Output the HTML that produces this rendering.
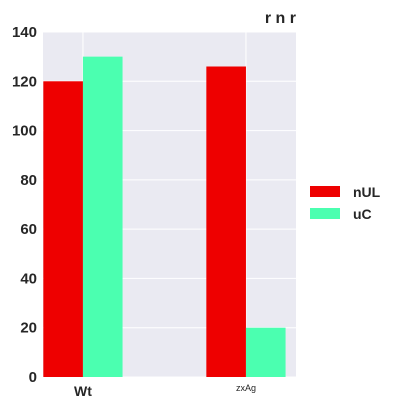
<!DOCTYPE html>
<html><head><meta charset="utf-8"><style>
body{margin:0;background:#fff;font-family:"Liberation Sans",sans-serif}
</style></head><body>
<svg width="408" height="408" xmlns="http://www.w3.org/2000/svg" font-family="Liberation Sans, sans-serif">
<g id="plot"></g>
</svg>
<script>
const categories=["Wt","zxAg"];
const seriesNames=["nUL","uC"];
const nulValues=[120,126];
const ucValues=[130,20];
const yTicks=[0,20,40,60,80,100,120,140];
const colors=["#ee0000","#4bffb0"];
const ns="http://www.w3.org/2000/svg";
const g=document.getElementById('plot');
const L=43,R=296,T=32,B=377,ymax=140;
const xmin=-0.245,xmax=1.307,bw=0.243;
const xs=v=>L+(v-xmin)/(xmax-xmin)*(R-L);
const ys=v=>B-v/ymax*(B-T);
function mk(t,a){const e=document.createElementNS(ns,t);for(const k in a)e.setAttribute(k,a[k]);g.appendChild(e);return e;}
const bg=mk('rect',{x:L,y:T,width:R-L,height:B-T,fill:'#eaeaf2'});


yTicks.forEach(t=>{
  const l=mk('line',{x1:L,x2:R,y1:ys(t),y2:ys(t),stroke:'#fff','stroke-width':1});
  
  
  const tx=mk('text',{x:37,y:ys(t)+5,'text-anchor':'end','font-size':15,'font-weight':'bold',fill:'#262626'});
  tx.textContent=t;
  
  
});
categories.forEach((c,i)=>{
  const l=mk('line',{x1:xs(i),x2:xs(i),y1:T,y2:B,stroke:'#fff','stroke-width':1});
  
  
});
[nulValues,ucValues].forEach((vals,s)=>{
  vals.forEach((v,i)=>{
    const x0=s===0?xs(i-bw):xs(i);
    const r=mk('rect',{x:x0,y:ys(v),width:xs(i)-xs(i-bw),height:B-ys(v),fill:colors[s]});
    
    
  });
});
const t0=mk('text',{x:xs(0),y:396,'text-anchor':'middle','font-size':14,'font-weight':'bold',fill:'#262626'});
t0.textContent=categories[0];


const t1=mk('text',{x:xs(1),y:391,'text-anchor':'middle','font-size':9,fill:'#262626'});
t1.textContent=categories[1];


const title=mk('text',{x:296,y:23,'text-anchor':'end','font-size':16,'font-weight':'bold',fill:'#262626'});
title.textContent='r n r';


seriesNames.forEach((n,s)=>{
  const y=186+s*22;
  const p=mk('rect',{x:310,y:y,width:30,height:11,fill:colors[s]});
  
  
  const tx=mk('text',{x:353,y:y+11,'font-size':14,'font-weight':'bold',fill:'#262626'});
  tx.textContent=n;
  
  
});
</script>
</body></html>
